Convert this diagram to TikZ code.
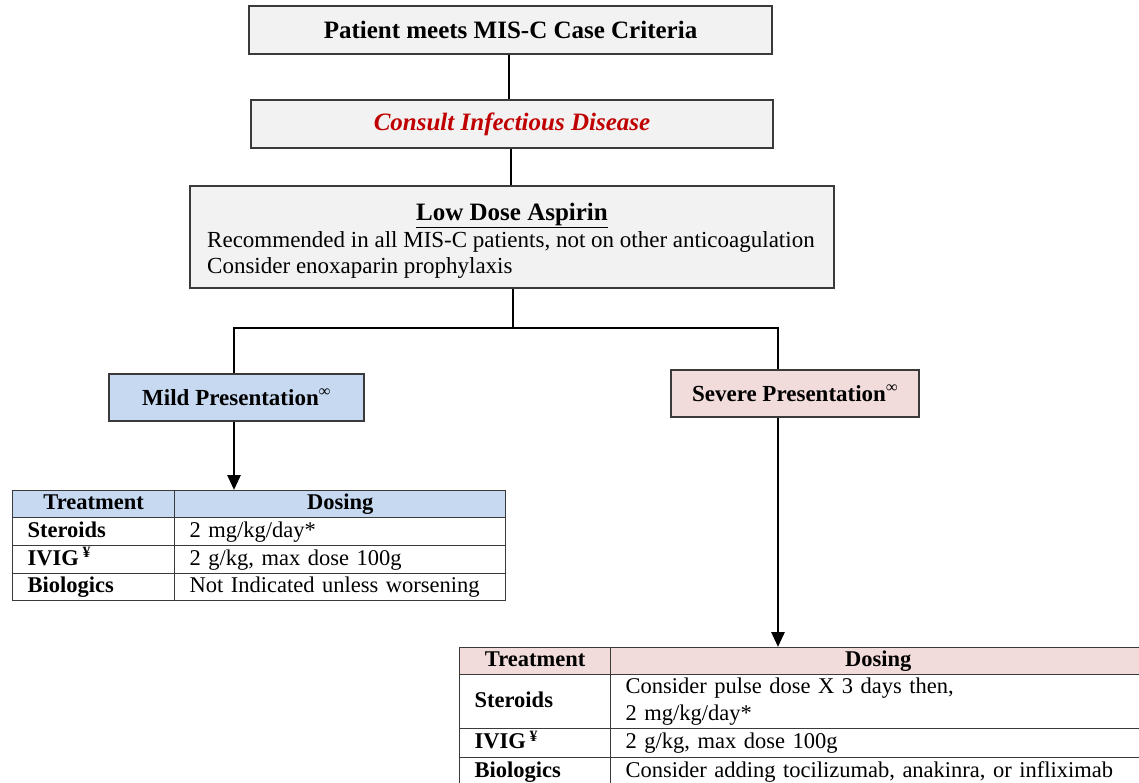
\documentclass[tikz,border=0pt]{standalone}
\usepackage{fontspec}
\setmainfont{Liberation Serif}
\usetikzlibrary{arrows.meta}

\definecolor{boxgray}{HTML}{F2F2F2}
\definecolor{mildblue}{HTML}{C6D9F1}
\definecolor{severepink}{HTML}{F2DCDB}
\definecolor{consultred}{HTML}{C00000}
\definecolor{edgegray}{HTML}{3A3A3A}

\begin{document}
\begin{tikzpicture}[x=1pt,y=-1pt,
  box/.style={draw=edgegray, line width=1.3pt, inner sep=0pt},
  bigtext/.style={font=\fontsize{25}{29}\selectfont\bfseries},
  midtext/.style={font=\fontsize{23}{27}\selectfont\bfseries},
  bodytext/.style={font=\fontsize{23}{27}\selectfont, inner sep=0pt},
  conn/.style={line width=2.8pt, black},
  arr/.style={conn, -{Triangle[length=15pt,width=13pt]}},
  cell/.style={draw=edgegray, line width=1.3pt, anchor=north west,
    inner ysep=0pt, inner xsep=15pt, font=\fontsize{22.5}{27}\selectfont,
    execute at begin node=\strut, execute at end node=\strut},
  headcell/.style={cell, align=center, font=\fontsize{22.5}{27}\selectfont\bfseries},
  namecell/.style={cell, align=left, font=\fontsize{22.5}{27}\selectfont\bfseries},
  dosecell/.style={cell, align=left}
]
\clip (0,0) rectangle (1139,782);

% top of the pathway
\node[box, bigtext, fill=boxgray, minimum width=523pt, minimum height=48pt]
  (crit) at (510.5,30) {Patient meets MIS-C Case Criteria};
\node[box, fill=boxgray, minimum width=522pt, minimum height=48pt,
  text=consultred, font=\fontsize{25}{29}\selectfont\bfseries\itshape]
  (consult) at (512,124) {Consult Infectious Disease};

% aspirin box with its title and two notes
\node[box, fill=boxgray, minimum width=644pt, minimum height=102pt]
  (aspirin) at (512,237) {};
\node[bigtext, anchor=base, inner sep=0pt] (asptitle) at (512,220)
  {\underline{Low Dose Aspirin}};
\node[bodytext, anchor=base west] (aspnote1) at (207,247)
  {Recommended in all MIS-C patients, not on other anticoagulation};
\node[bodytext, anchor=base west] (aspnote2) at (207,273)
  {Consider enoxaparin prophylaxis};

% presentation boxes
\node[box, midtext, fill=mildblue, minimum width=255pt, minimum height=47pt]
  (mild) at (236.5,397.5) {Mild Presentation\textsuperscript{∞}};
\node[box, midtext, fill=severepink, minimum width=248pt, minimum height=47pt]
  (severe) at (795,393.5) {Severe Presentation\textsuperscript{∞}};

% mild treatment table
\node[headcell, fill=mildblue, text width=132pt, minimum height=27pt] (mh1) at (12,490) {Treatment};
\node[headcell, fill=mildblue, text width=301pt, minimum height=27pt] (mh2) at (174,490) {Dosing};
\node[namecell, text width=132pt, minimum height=28pt] (ms1) at (12,517) {Steroids};
\node[dosecell, text width=301pt, minimum height=28pt] (ms2) at (174,517) {2 mg/kg/day*};
\node[namecell, text width=132pt, minimum height=28pt] (mi1) at (12,545) {IVIG\,\textsuperscript{¥}};
\node[dosecell, text width=301pt, minimum height=28pt] (mi2) at (174,545) {2 g/kg, max dose 100g};
\node[namecell, text width=132pt, minimum height=27pt] (mb1) at (12,573) {Biologics};
\node[dosecell, text width=301pt, minimum height=27pt] (mb2) at (174,573) {Not Indicated unless worsening};

% severe treatment table
\node[headcell, fill=severepink, text width=121pt, minimum height=27pt] (sh1) at (459,647) {Treatment};
\node[headcell, fill=severepink, text width=505pt, minimum height=27pt] (sh2) at (610,647) {Dosing};
\node[namecell, text width=121pt, minimum height=54pt] (ss1) at (459,674) {Steroids};
\node[dosecell, text width=505pt, minimum height=54pt] (ss2) at (610,674)
  {Consider pulse dose X 3 days then,\\2 mg/kg/day*};
\node[namecell, text width=121pt, minimum height=29pt] (si1) at (459,728) {IVIG\,\textsuperscript{¥}};
\node[dosecell, text width=505pt, minimum height=29pt] (si2) at (610,728) {2 g/kg, max dose 100g};
\node[namecell, text width=121pt, minimum height=29pt] (sb1) at (459,757) {Biologics};
\node[dosecell, text width=505pt, minimum height=29pt] (sb2) at (610,757)
  {Consider adding tocilizumab, anakinra, or infliximab};

% connectors
\coordinate (fork) at (513,328);
\coordinate (forkL) at (234,328);
\coordinate (forkR) at (778,328);
\draw[conn] (crit.south -| 509,0) -- (consult.north -| 509,0);
\draw[conn] (consult.south -| 511,0) -- (aspirin.north -| 511,0);
\draw[conn] (aspirin.south -| fork) -- (fork);
\draw[conn] (forkL |- mild.north) -- (forkL) -- (forkR) -- (forkR |- severe.north);
\draw[arr] (forkL |- mild.south) -- (forkL |- mh1.north);
\draw[arr] (forkR |- severe.south) -- (forkR |- sh1.north);
\end{tikzpicture}
\end{document}
